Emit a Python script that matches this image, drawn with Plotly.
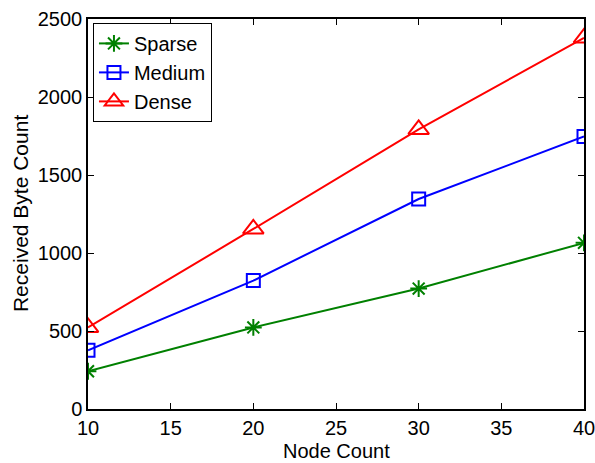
import plotly.graph_objects as go

node_count = [10, 20, 30, 40]
sparse = [242, 523, 772, 1065]
medium = [376, 823, 1346, 1747]
dense = [523, 1154, 1792, 2379]

FONT = "Liberation Sans, Arial, Helvetica, sans-serif"

fig = go.Figure()
fig.add_trace(go.Scatter(x=node_count, y=sparse, name="Sparse", mode="lines+markers",
                         line=dict(color="#008000", width=2),
                         marker=dict(symbol="asterisk-open", size=14,
                                     line=dict(color="#008000", width=2))))
fig.add_trace(go.Scatter(x=node_count, y=medium, name="Medium", mode="lines+markers",
                         line=dict(color="#0000ff", width=2),
                         marker=dict(symbol="square-open", size=13,
                                     line=dict(color="#0000ff", width=2))))
fig.add_trace(go.Scatter(x=node_count, y=dense, name="Dense", mode="lines+markers",
                         line=dict(color="#ff0000", width=2),
                         marker=dict(symbol="triangle-up-open", size=18,
                                     line=dict(color="#ff0000", width=2))))

axis_common = dict(showline=True, linecolor="black", linewidth=1.5, mirror="ticks",
                   ticks="inside", ticklen=6, tickcolor="black", tickwidth=1,
                   showgrid=False, zeroline=False, automargin=False,
                   ticklabeloverflow="allow",
                   tickfont=dict(family=FONT, size=20, color="black"))

fig.update_layout(
    width=595, height=463,
    margin=dict(l=88, r=11, t=19, b=54),
    paper_bgcolor="white", plot_bgcolor="white",
    font=dict(family=FONT, color="black"),
    xaxis=dict(range=[10, 40], tickvals=[10, 15, 20, 25, 30, 35, 40], **axis_common),
    yaxis=dict(range=[0, 2500], tickvals=[0, 500, 1000, 1500, 2000, 2500], **axis_common),
    legend=dict(x=0.01, y=0.99, xanchor="left", yanchor="top",
                bgcolor="white", bordercolor="black", borderwidth=1,
                font=dict(family=FONT, size=20, color="black"),
                itemwidth=30, tracegroupgap=0),
    showlegend=True,
    annotations=[
        dict(text="Node Count", xref="paper", yref="paper", x=0.5, y=-0.138,
             xanchor="center", yanchor="bottom", showarrow=False, borderpad=0,
             font=dict(family=FONT, size=20, color="black")),
        dict(text="Received Byte Count", xref="paper", yref="paper", x=-0.137, y=0.5,
             xanchor="center", yanchor="middle", showarrow=False, textangle=-90,
             font=dict(family=FONT, size=21, color="black")),
    ],
)

fig.write_html("out.html")
